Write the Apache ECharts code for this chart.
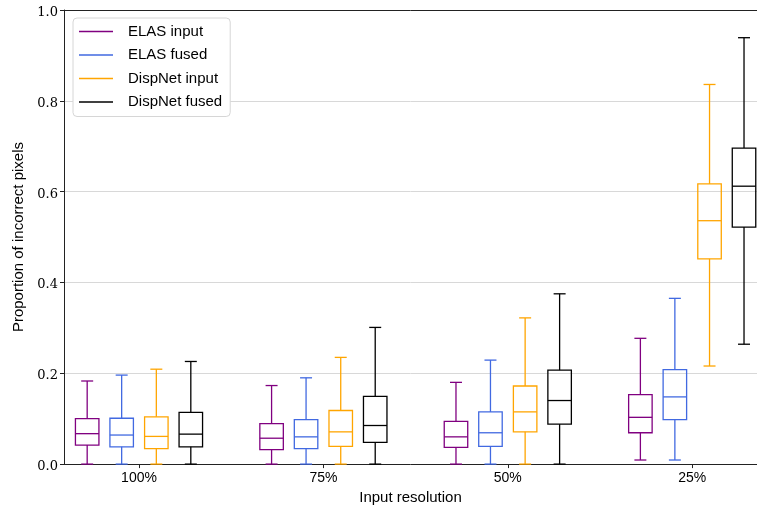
<!DOCTYPE html>
<html>
<head>
<meta charset="utf-8">
<script src="https://cdn.jsdelivr.net/npm/echarts@6/dist/echarts.min.js"></script>
<style>
  html, body { margin: 0; padding: 0; background: #fff; }
  #chart { width: 757px; height: 510px; }
</style>
</head>
<body>
<div id="chart"></div>
<script>
// Resolution groups along the x axis
const categories = ['100%', '75%', '50%', '25%'];
const seriesNames = ['ELAS input', 'ELAS fused', 'DispNet input', 'DispNet fused'];
const seriesColors = ['#800080', '#4169e1', '#ffa500', '#000000'];

// Box statistics per group: [min, q1, median, q3, max]
const elasInput = [
  [0.000, 0.042, 0.067, 0.100, 0.183],
  [0.000, 0.032, 0.057, 0.089, 0.173],
  [0.000, 0.037, 0.060, 0.094, 0.180],
  [0.009, 0.069, 0.103, 0.153, 0.277]
];
const elasFused = [
  [0.000, 0.038, 0.064, 0.101, 0.196],
  [0.000, 0.034, 0.060, 0.098, 0.190],
  [0.000, 0.039, 0.069, 0.115, 0.229],
  [0.009, 0.098, 0.148, 0.208, 0.365]
];
const dispnetInput = [
  [0.000, 0.034, 0.061, 0.104, 0.209],
  [0.000, 0.039, 0.071, 0.118, 0.235],
  [0.000, 0.071, 0.115, 0.172, 0.322],
  [0.216, 0.452, 0.536, 0.617, 0.836]
];
const dispnetFused = [
  [0.000, 0.038, 0.066, 0.114, 0.226],
  [0.000, 0.048, 0.085, 0.149, 0.301],
  [0.000, 0.088, 0.140, 0.207, 0.375],
  [0.264, 0.522, 0.612, 0.696, 0.939]
];
const yTicks = [0, 0.2, 0.4, 0.6, 0.8, 1.0];

const allStats = [elasInput, elasFused, dispnetInput, dispnetFused];
const offsets = [-0.281, -0.094, 0.094, 0.281];
const boxHalf = 0.0637;
const capHalf = 0.0325;

function makeRenderer(offset) {
  return function (params, api) {
    const x = api.value(0) + offset;
    const color = api.visual('color');
    const p = (v) => api.coord([x, v]);
    const pMin = p(api.value(1)), pQ1 = p(api.value(2)), pMed = p(api.value(3)),
          pQ3 = p(api.value(4)), pMax = p(api.value(5));
    const bw = api.size([boxHalf, 0])[0];
    const cw = api.size([capHalf, 0])[0];
    const cx = pMed[0];
    const style = { stroke: color, lineWidth: 1.3, fill: null };
    const line = (x1, y1, x2, y2) => ({
      type: 'line', shape: { x1, y1, x2, y2 }, style
    });
    return {
      type: 'group',
      children: [
        { type: 'rect', shape: { x: cx - bw, y: pQ3[1], width: 2 * bw, height: pQ1[1] - pQ3[1] }, style },
        line(cx - bw, pMed[1], cx + bw, pMed[1]),
        line(cx, pQ3[1], cx, pMax[1]),
        line(cx, pQ1[1], cx, pMin[1]),
        line(cx - cw, pMax[1], cx + cw, pMax[1]),
        line(cx - cw, pMin[1], cx + cw, pMin[1])
      ]
    };
  };
}

const series = seriesNames.map((name, i) => ({
  name,
  type: 'custom',
  renderItem: makeRenderer(offsets[i]),
  itemStyle: { color: seriesColors[i] },
  encode: { x: 0, y: [1, 2, 3, 4, 5] },
  data: allStats[i].map((s, g) => [g].concat(s)),
  z: 5
}));

const chart = echarts.init(document.getElementById('chart'), null, { renderer: 'canvas' });
chart.setOption({
  animation: false,
  backgroundColor: '#fff',
  grid: { left: 64, right: 0, top: 10, bottom: 44 },
  legend: {
    left: 73, top: 18,
    orient: 'vertical',
    data: seriesNames,
    icon: 'rect',
    itemWidth: 34, itemHeight: 1.5,
    itemGap: 8.5,
    padding: [6, 8, 7, 6],
    backgroundColor: '#fff',
    borderColor: '#d6d6d6', borderWidth: 1, borderRadius: 4,
    textStyle: { fontFamily: 'Liberation Sans', fontSize: 15, color: '#000', lineHeight: 15, padding: [0, 0, 0, 10] }
  },
  xAxis: [{
    type: 'value',
    min: -0.4067, max: 3.3514,
    name: 'Input resolution',
    nameLocation: 'middle', nameGap: 24,
    nameTextStyle: { fontFamily: 'Liberation Sans', fontSize: 15, color: '#000' },
    axisLine: { show: true, onZero: false, lineStyle: { color: '#222', width: 1 } },
    axisTick: { show: true, length: 4, lineStyle: { color: '#222' }, customValues: [0, 1, 2, 3] },
    axisLabel: {
      customValues: [0, 1, 2, 3], margin: 7,
      fontFamily: 'Liberation Sans', fontSize: 14, color: '#000',
      formatter: (v) => categories[Math.round(v)]
    },
    splitLine: { show: false }
  }, {
    type: 'value', position: 'top',
    min: -0.4067, max: 3.3514,
    axisLine: { show: true, onZero: false, lineStyle: { color: '#222', width: 1 } },
    axisTick: { show: false }, axisLabel: { show: false }, splitLine: { show: false }
  }],
  yAxis: {
    type: 'value', min: 0, max: 1, interval: 0.2,
    name: 'Proportion of incorrect pixels',
    nameLocation: 'middle', nameGap: 34, nameRotate: 90,
    nameTextStyle: { fontFamily: 'Liberation Sans', fontSize: 15, color: '#000' },
    axisLine: { show: true, onZero: false, lineStyle: { color: '#222', width: 1 } },
    axisTick: { show: true, length: 4, lineStyle: { color: '#222' } },
    axisLabel: {
      margin: 6, color: '#000',
      formatter: (v) => yTicks.includes(Math.round(v * 10) / 10) ? '{t|' + v.toFixed(1) + '}' : '',
      rich: { t: { fontFamily: 'DejaVu Serif', fontSize: 13, color: '#000', padding: [5, 0, 0, 0] } }
    },
    splitLine: { show: true, lineStyle: { color: '#d8d8d8', width: 1 } }
  },
  series
});
</script>
</body>
</html>
